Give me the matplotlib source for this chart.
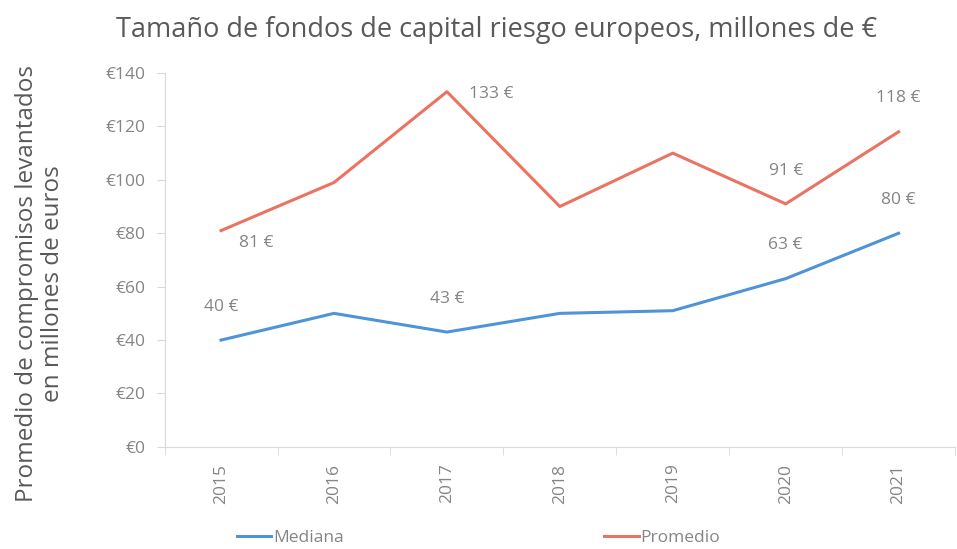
import matplotlib.pyplot as plt
from matplotlib.ticker import FuncFormatter

# datos
anios = ['2015', '2016', '2017', '2018', '2019', '2020', '2021']
mediana = [40, 50, 43, 50, 51, 63, 80]
promedio = [81, 99, 133, 90, 110, 91, 118]
# etiquetas visibles (None = sin etiqueta)
etiquetas_mediana = [40, None, 43, None, None, 63, 80]
etiquetas_promedio = [81, None, 133, None, None, 91, 118]

gris = '#858585'
azul = '#4f94d6'
rojo = '#ea7362'
plt.rcParams['font.family'] = ['Open Sans', 'DejaVu Sans']

fig = plt.figure(figsize=(9.57, 5.49), dpi=100)
ax = fig.add_axes([0.172, 0.186, 0.826, 0.681])

x = list(range(len(anios)))
ax.plot(x, mediana, color=azul, lw=2.2, label='Mediana')
ax.plot(x, promedio, color=rojo, lw=2.2, label='Promedio')

# etiquetas de datos
for i, v in enumerate(etiquetas_mediana):
    if v is not None:
        ax.annotate(f'{v} €', (i, mediana[i]), xytext=(0, 24), textcoords='offset points',
                    ha='center', va='center', fontsize=12.5, color=gris)
for i, v in enumerate(etiquetas_promedio):
    if v is not None:
        if i == 0:
            off, ha = (25, -9), 'center'
        elif i == 2:
            off, ha = (16, -2), 'left'
        else:
            off, ha = (0, 24), 'center'
        ax.annotate(f'{v} €', (i, promedio[i]), xytext=off, textcoords='offset points',
                    ha=ha, va='center', fontsize=12.5, color=gris)

ax.set_xlim(-0.5, len(anios) - 0.5)
ax.set_ylim(0, 140)
ax.set_yticks(range(0, 141, 20))
ax.yaxis.set_major_formatter(FuncFormatter(lambda v, p: f'€{v:.0f}'))
ax.set_xticks(x)
ax.set_xticklabels(anios, rotation=90)
ax.set_xticks([i - 0.5 for i in range(len(anios) + 1)], minor=True)
ax.tick_params(axis='x', which='major', length=0, pad=12, labelsize=12.5, labelcolor=gris)
ax.tick_params(axis='x', which='minor', length=6, color='#d9d9d9')
ax.tick_params(axis='y', length=6, color='#d9d9d9', labelsize=12.5, labelcolor=gris, pad=8)

for s in ['top', 'right']:
    ax.spines[s].set_visible(False)
for s in ['left', 'bottom']:
    ax.spines[s].set_color('#d9d9d9')

# título del eje y colocado a mano (más abajo que el centro del eje)
fig.text(0.042, 0.484, 'Promedio de compromisos levantados\nen millones de euros', rotation=90,
         ha='center', va='center', multialignment='center', fontsize=17.5,
         color='#595959', linespacing=1.1)
fig.text(0.519, 0.945, 'Tamaño de fondos de capital riesgo europeos, millones de €',
         ha='center', va='center', fontsize=19.5, color='#595959')

fig.legend(*ax.get_legend_handles_labels(), loc='center', bbox_to_anchor=(0.5, 0.02),
           ncol=2, frameon=False, fontsize=12.5, labelcolor=gris, columnspacing=15,
           handlelength=2.0, handletextpad=0.1, borderpad=0)

fig.savefig('out.png', dpi=100)
